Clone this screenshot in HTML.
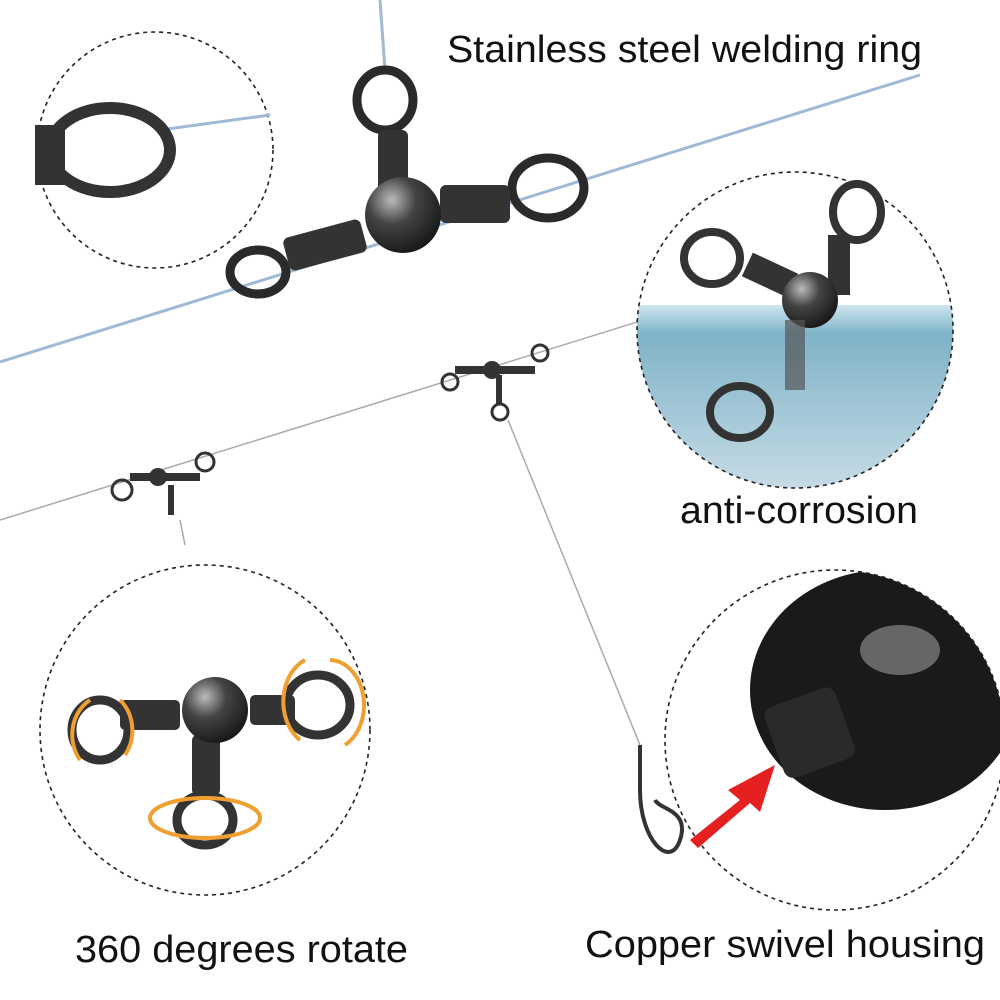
<!DOCTYPE html>
<html><head><meta charset="utf-8"><style>
html,body{margin:0;padding:0;background:#fff;}
svg{display:block}
text{font-family:"Liberation Sans",sans-serif;fill:#111}
</style></head><body>
<svg width="1000" height="1000" viewBox="0 0 1000 1000" xmlns="http://www.w3.org/2000/svg">
<defs>
<radialGradient id="ball" cx="0.35" cy="0.3" r="0.8"><stop offset="0" stop-color="#bbb"/><stop offset="0.4" stop-color="#444"/><stop offset="1" stop-color="#111"/></radialGradient>
<linearGradient id="water" x1="0" y1="0" x2="0" y2="1"><stop offset="0" stop-color="#cfe6ef"/><stop offset="0.15" stop-color="#7fb3c8"/><stop offset="1" stop-color="#c9dde6"/></linearGradient>
<clipPath id="c2"><circle cx="795" cy="330" r="158"/></clipPath>
<clipPath id="c4"><circle cx="835" cy="740" r="170"/></clipPath>
</defs>
<line x1="0" y1="362" x2="920" y2="75" stroke="#9fb9d6" stroke-width="3"/>
<line x1="380" y1="0" x2="385" y2="70" stroke="#9fb9d6" stroke-width="3"/>
<line x1="0" y1="520" x2="650" y2="318" stroke="#aaa" stroke-width="1.5"/>
<line x1="508" y1="420" x2="640" y2="745" stroke="#aaa" stroke-width="1.5"/>
<line x1="180" y1="520" x2="185" y2="545" stroke="#aaa" stroke-width="1.5"/>
<circle cx="155" cy="150" r="118" fill="#fff" stroke="#222" stroke-width="1.6" stroke-dasharray="4 4"/>
<g clip-path="url(#c2)"><circle cx="795" cy="330" r="158" fill="#fff"/><rect x="630" y="305" width="330" height="190" fill="url(#water)"/></g>
<circle cx="795" cy="330" r="158" fill="none" stroke="#222" stroke-width="1.6" stroke-dasharray="4 4"/>
<circle cx="205" cy="730" r="165" fill="#fff" stroke="#222" stroke-width="1.6" stroke-dasharray="4 4"/>
<g clip-path="url(#c4)"><circle cx="835" cy="740" r="170" fill="#fff"/>
<ellipse cx="885" cy="690" rx="135" ry="120" fill="#1a1a1a"/><ellipse cx="900" cy="650" rx="40" ry="25" fill="#666"/>
<rect x="772" y="695" width="75" height="75" rx="10" fill="#2a2a2a" transform="rotate(-20 810 732)"/>
</g>
<circle cx="835" cy="740" r="170" fill="none" stroke="#222" stroke-width="1.6" stroke-dasharray="4 4"/>
<polygon points="690,840 740,800 728,790 775,765 760,812 750,803 698,848" fill="#e52020"/>
<line x1="160" y1="130" x2="270" y2="115" stroke="#9fb9d6" stroke-width="3"/>
<ellipse cx="110" cy="150" rx="60" ry="42" fill="none" stroke="#333" stroke-width="12"/>
<rect x="35" y="125" width="30" height="60" fill="#333"/>
<g stroke="#2a2a2a" fill="none" stroke-width="9">
<ellipse cx="385" cy="100" rx="28" ry="30"/>
<ellipse cx="548" cy="188" rx="36" ry="30"/>
<ellipse cx="258" cy="272" rx="28" ry="22"/>
</g>
<rect x="378" y="130" width="30" height="65" rx="6" fill="#333"/>
<rect x="440" y="185" width="70" height="38" rx="6" fill="#333"/>
<rect x="285" y="228" width="80" height="34" rx="6" fill="#333" transform="rotate(-15 325 245)"/>
<circle cx="403" cy="215" r="38" fill="url(#ball)"/>
<g stroke="#333" fill="none" stroke-width="3">
<circle cx="450" cy="382" r="8"/><circle cx="540" cy="353" r="8"/><circle cx="500" cy="412" r="8"/>
<circle cx="122" cy="490" r="10"/><circle cx="205" cy="462" r="9"/>
</g>
<circle cx="492" cy="370" r="9" fill="#333"/><rect x="455" y="366" width="80" height="8" fill="#333"/><rect x="496" y="375" width="6" height="30" fill="#333"/>
<circle cx="158" cy="477" r="9" fill="#333"/><rect x="130" y="473" width="70" height="8" fill="#333"/><rect x="168" y="485" width="6" height="30" fill="#333"/>
<g stroke="#333" fill="none" stroke-width="8">
<ellipse cx="712" cy="258" rx="28" ry="26"/><ellipse cx="857" cy="212" rx="24" ry="28"/><ellipse cx="740" cy="412" rx="30" ry="26"/>
</g>
<rect x="745" y="262" width="50" height="26" fill="#333" transform="rotate(25 770 275)"/>
<rect x="828" y="235" width="22" height="60" fill="#333"/>
<circle cx="810" cy="300" r="28" fill="url(#ball)"/>
<rect x="785" y="320" width="20" height="70" fill="#555" opacity="0.7"/>
<g stroke="#333" fill="none" stroke-width="9">
<ellipse cx="100" cy="730" rx="28" ry="30"/><ellipse cx="318" cy="705" rx="32" ry="30"/><ellipse cx="205" cy="820" rx="28" ry="25"/>
</g>
<rect x="120" y="700" width="60" height="30" rx="5" fill="#333"/><rect x="250" y="695" width="45" height="30" rx="5" fill="#333"/>
<rect x="192" y="735" width="28" height="60" rx="5" fill="#333"/>
<circle cx="215" cy="710" r="33" fill="url(#ball)"/>
<g stroke="#f0a030" fill="none" stroke-width="4">
<path d="M90 700 A35 40 0 0 0 80 760"/><path d="M120 700 A35 40 0 0 1 125 755"/>
<path d="M305 660 A35 45 0 0 0 300 740"/><path d="M330 660 A35 45 0 0 1 345 745"/>
<ellipse cx="205" cy="818" rx="55" ry="20"/>
</g>
<path d="M640 745 L640 790 C640 840 670 870 680 840 C690 810 660 810 655 800" stroke="#333" stroke-width="4" fill="none"/>
<text x="447" y="62" font-size="38" textLength="475" lengthAdjust="spacingAndGlyphs">Stainless steel welding ring</text>
<text x="680" y="523" font-size="38" textLength="238" lengthAdjust="spacingAndGlyphs">anti-corrosion</text>
<text x="75" y="962" font-size="38" textLength="333" lengthAdjust="spacingAndGlyphs">360 degrees rotate</text>
<text x="585" y="957" font-size="38" textLength="400" lengthAdjust="spacingAndGlyphs">Copper swivel housing</text>
</svg>
</body></html>
